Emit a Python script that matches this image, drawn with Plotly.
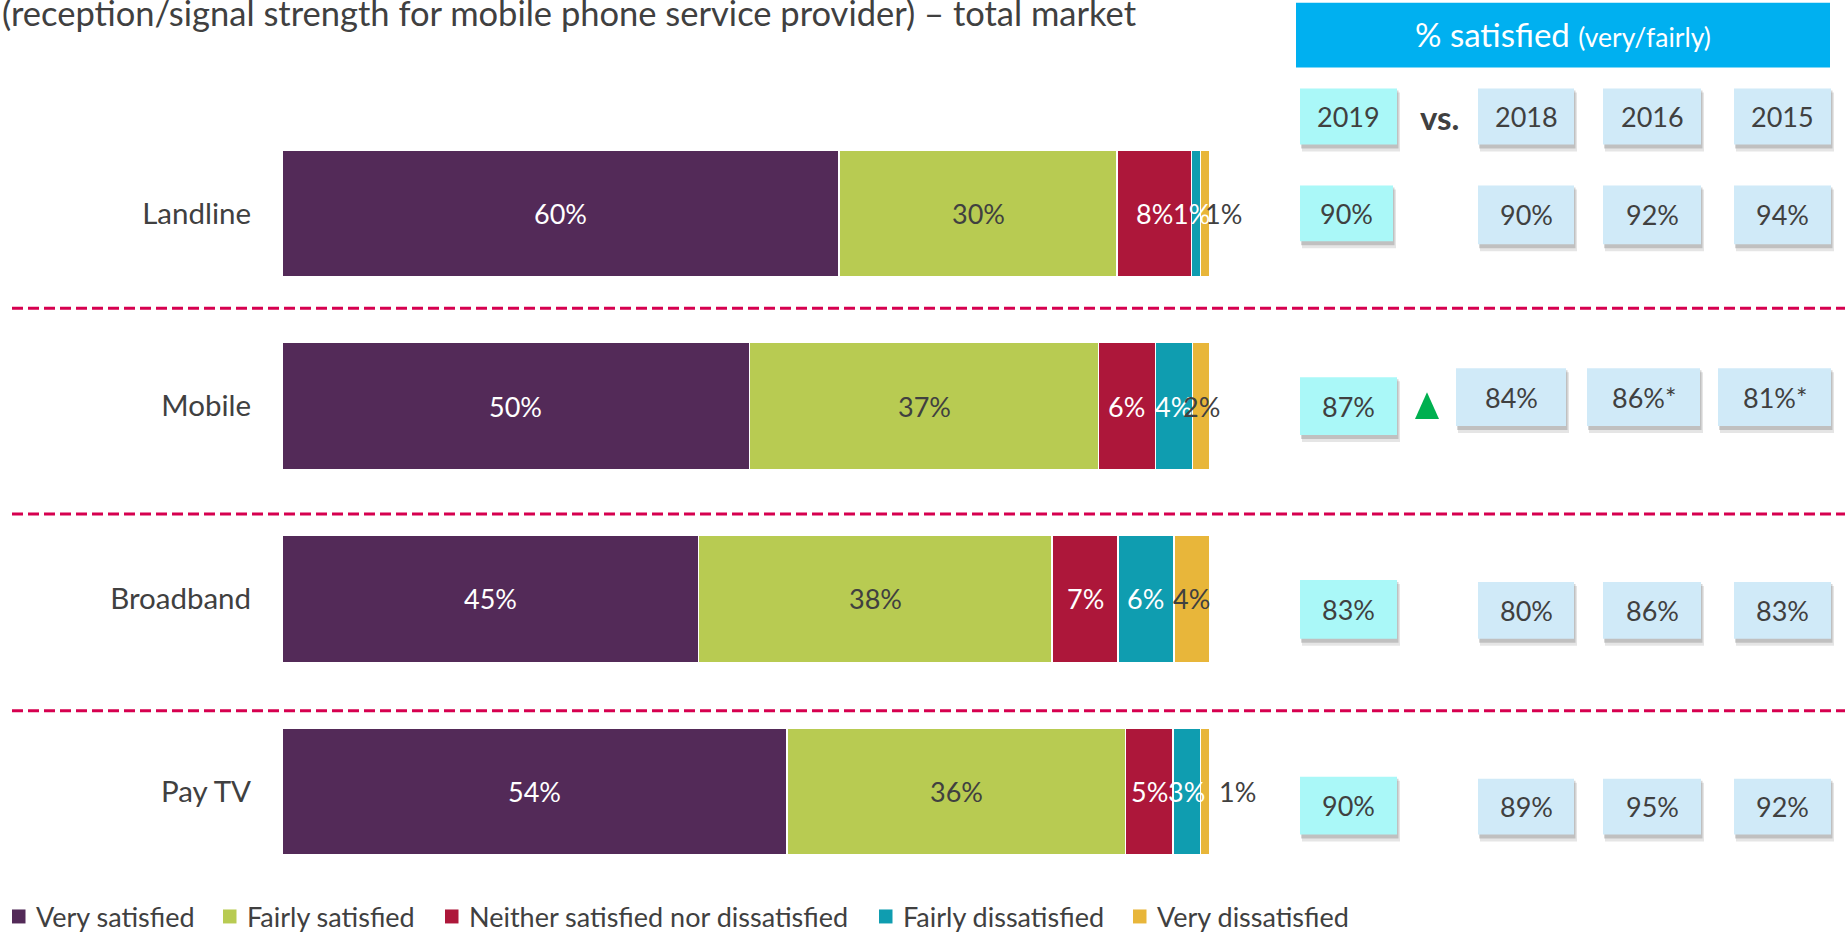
import plotly.graph_objects as go

# ---------------- data ----------------
categories = ["Landline", "Mobile", "Broadband", "Pay TV"]
series_names = ["Very satisfied", "Fairly satisfied",
                "Neither satisfied nor dissatisfied",
                "Fairly dissatisfied", "Very dissatisfied"]
very_satisfied = [60.0, 50.4, 44.9, 54.4]
fairly_satisfied = [30.0, 37.6, 38.1, 36.5]
neither = [8.0, 6.1, 7.1, 5.1]
fairly_dissatisfied = [1.0, 4.0, 6.0, 3.0]
very_dissatisfied = [1.0, 1.9, 3.9, 1.0]

label_very_satisfied = ["60%", "50%", "45%", "54%"]
label_fairly_satisfied = ["30%", "37%", "38%", "36%"]
label_neither = ["8%", "6%", "7%", "5%"]
label_fairly_dissatisfied = ["1%", "4%", "6%", "3%"]
label_very_dissatisfied = ["1%", "2%", "4%", "1%"]

years = ["2019", "2018", "2016", "2015"]
sat_landline = ["90%", "90%", "92%", "94%"]
sat_mobile = ["87%", "84%", "86%*", "81%*"]
sat_broadband = ["83%", "80%", "86%", "83%"]
sat_paytv = ["90%", "89%", "95%", "92%"]
sig_increase = [False, True, False, False]

title_text = "(reception/signal strength for mobile phone service provider) \u2013 total market"

# ---------------- styling ----------------
colors = ["#532A58", "#B8CB52", "#AD173A", "#0F9DB0", "#E8B63A"]
label_colors = ["white", "#404040", "white", "white", "#404040"]
FONT = "Lato"
TXT = "#404040"

W, H = 1845, 937
L, R, T, B = 282, 1210, 116.5, 888.5


def px(x):
    return (x - L) / (R - L)


def py(y):
    return (B - y) / (B - T)


series_vals = [very_satisfied, fairly_satisfied, neither, fairly_dissatisfied, very_dissatisfied]
series_labels = [label_very_satisfied, label_fairly_satisfied, label_neither,
                 label_fairly_dissatisfied, label_very_dissatisfied]

fig = go.Figure()
for name, vals, col in zip(series_names, series_vals, colors):
    fig.add_trace(go.Bar(
        y=categories, x=vals, orientation="h", name=name,
        marker=dict(color=col, line=dict(color="white", width=1.5)),
        hoverinfo="name+x", showlegend=False,
    ))

# label shifts (px) for crowded small segments
label_shift = {(0, 3): -5, (0, 4): 18, (3, 4): 32}

annotations = []
for i, cat in enumerate(categories):
    start = 0.0
    for s, (vals, labs) in enumerate(zip(series_vals, series_labels)):
        v = vals[i]
        annotations.append(dict(
            x=start + v / 2, y=cat, xref="x", yref="y", text=labs[i],
            xanchor="center", yanchor="middle",
            showarrow=False, xshift=label_shift.get((i, s), 0),
            font=dict(family=FONT, size=27, color=label_colors[s]),
        ))
        start += v

# title (clipped at top)
annotations.append(dict(
    x=px(0), y=py(12), xref="paper", yref="paper", xanchor="left", yanchor="middle",
    text=title_text, showarrow=False, font=dict(family=FONT, size=34.5, color=TXT),
))

shapes = []
# dashed separators
for yy in [308, 514, 711]:
    shapes.append(dict(type="line", xref="paper", yref="paper",
                       x0=px(12), x1=px(1845), y0=py(yy), y1=py(yy),
                       line=dict(color="#D6004F", width=3, dash="11px,5px")))

# legend (drawn manually for exact spacing)
leg_sq_x = [12, 223, 445, 879, 1133]
for name, col, x0 in zip(series_names, colors, leg_sq_x):
    shapes.append(dict(type="rect", xref="paper", yref="paper",
                       x0=px(x0), x1=px(x0 + 13.5), y0=py(910), y1=py(924),
                       fillcolor=col, line=dict(width=0)))
    annotations.append(dict(
        x=px(x0 + 22), y=py(917), xref="paper", yref="paper", xanchor="left",
        yanchor="middle", text=name, showarrow=False,
        font=dict(family=FONT, size=27, color=TXT),
    ))

# header box
shapes.append(dict(type="rect", xref="paper", yref="paper",
                   x0=px(1296), x1=px(1830), y0=py(2), y1=py(67),
                   fillcolor="#00B0F0", line=dict(width=0), layer="above"))
annotations.append(dict(
    x=px(1563), y=py(33), xref="paper", yref="paper", showarrow=False,
    xanchor="center", yanchor="middle",
    text="% satisfied <span style='font-size:26.5px'>(very/fairly)</span>",
    font=dict(family=FONT, size=33, color="white"),
))


def box(x0, x1, y0, y1, fill, text):
    shapes.append(dict(type="rect", xref="paper", yref="paper",
                       x0=px(x0 + 2), x1=px(x1 + 3), y0=py(y0 + 4), y1=py(y1 + 7),
                       fillcolor="rgba(0,0,0,0.10)", line=dict(width=0), layer="above"))
    shapes.append(dict(type="rect", xref="paper", yref="paper",
                       x0=px(x0 + 1), x1=px(x1 + 1.5), y0=py(y0 + 2), y1=py(y1 + 4),
                       fillcolor="rgba(0,0,0,0.16)", line=dict(width=0), layer="above"))
    shapes.append(dict(type="rect", xref="paper", yref="paper",
                       x0=px(x0), x1=px(x1), y0=py(y0), y1=py(y1),
                       fillcolor=fill, line=dict(width=0), layer="above"))
    annotations.append(dict(
        x=px((x0 + x1) / 2), y=py((y0 + y1) / 2), xref="paper", yref="paper",
        xanchor="center", yanchor="middle",
        text=text, showarrow=False, font=dict(family=FONT, size=27, color=TXT),
    ))


C2019 = "#AAF8F8"
COTH = "#D0EAF8"
cols_std = [(1300, 1397), (1478, 1574), (1603, 1701), (1734, 1831)]
cols_mob = [(1300, 1397), (1456, 1566), (1587, 1700), (1718, 1831)]

# year row
for j, yr in enumerate(years):
    x0, x1 = cols_std[j]
    box(x0, x1, 88, 144, C2019 if j == 0 else COTH, yr)
annotations.append(dict(
    x=px(1439), y=py(116), xref="paper", yref="paper", text="<b>vs.</b>",
    xanchor="center", yanchor="middle",
    showarrow=False, font=dict(family=FONT, size=33, color=TXT),
))

rows = [
    (sat_landline, cols_std, (185, 241), (185, 244)),
    (sat_mobile, cols_mob, (377, 435), (368, 426)),
    (sat_broadband, cols_std, (580, 639), (582, 639)),
    (sat_paytv, cols_std, (777, 835), (779, 835)),
]
for r, (vals, cols, y19, yoth) in enumerate(rows):
    for j, v in enumerate(vals):
        x0, x1 = cols[j]
        if r == 0 and j == 0:
            x1 = 1393
        yy = y19 if j == 0 else yoth
        box(x0, x1, yy[0], yy[1], C2019 if j == 0 else COTH, v)
    if sig_increase[r]:
        cy = (y19[0] + y19[1]) / 2
        shapes.append(dict(
            type="path", xref="paper", yref="paper",
            path="M {a},{b} L {c},{d} L {e},{f} Z".format(
                a=px(1427), b=py(cy - 14), c=px(1415), d=py(cy + 13),
                e=px(1439), f=py(cy + 13)),
            fillcolor="#00B050", line=dict(width=0), layer="above"))

fig.update_layout(
    width=W, height=H,
    margin=dict(l=L, r=W - R, t=T, b=H - B, pad=0, autoexpand=False),
    barmode="stack", bargap=0.342,
    plot_bgcolor="white", paper_bgcolor="white",
    font=dict(family=FONT, color=TXT),
    xaxis=dict(range=[0, 100], visible=False, fixedrange=True),
    yaxis=dict(type="category", categoryorder="array", categoryarray=categories,
               range=[3.5, -0.5], showgrid=False, zeroline=False, showline=False,
               ticks="outside", ticklen=24, tickcolor="rgba(0,0,0,0)",
               tickfont=dict(family=FONT, size=29.5, color=TXT), fixedrange=True,
               automargin=False),
    showlegend=False,
    shapes=shapes,
    annotations=annotations,
)

fig.write_html("out.html", config={"displayModeBar": False},
               post_script="document.body.style.margin='0';")
